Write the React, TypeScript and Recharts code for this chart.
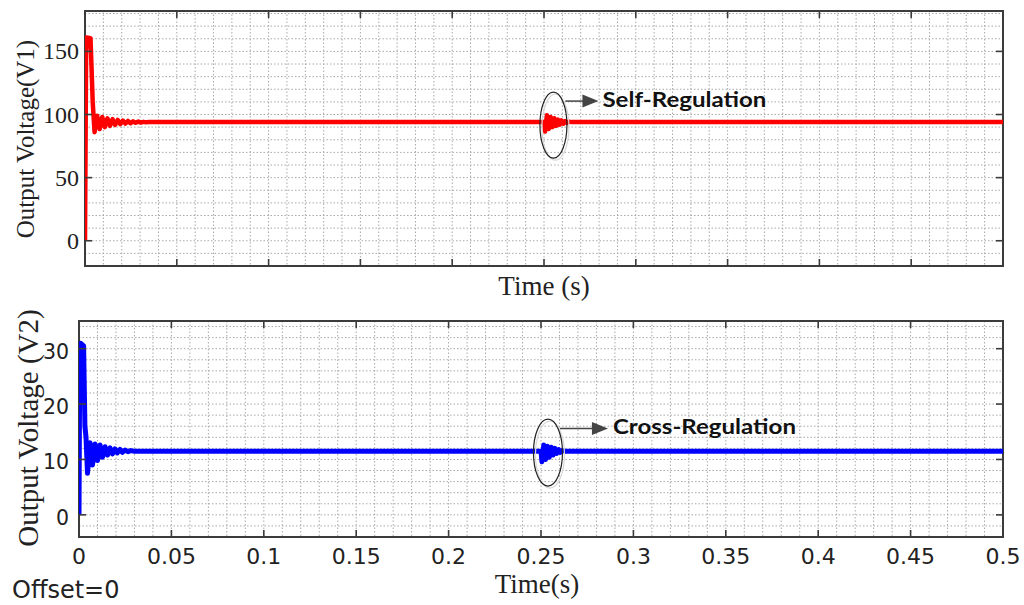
import React from 'react';
import { LineChart, Line, XAxis, YAxis, CartesianGrid, ReferenceArea, ReferenceDot } from 'recharts';

// V1 (self-regulated output), time in s / volts
const v1Times = [
  0, 0.0006, 0.001, 0.003, 0.0042, 0.0052, 0.0066, 0.008, 0.0094, 0.0108, 0.0122, 0.0136, 0.015,
  0.0164, 0.0178, 0.0192, 0.0206, 0.022, 0.0234, 0.0248, 0.0262, 0.0276, 0.029, 0.0304, 0.0318,
  0.0332, 0.035, 0.25, 0.2506, 0.2516, 0.2526, 0.2536, 0.2546, 0.2556, 0.2566, 0.2576, 0.2586,
  0.2596, 0.2606, 0.2616, 0.2626, 0.2636, 0.265, 0.5,
];
const v1Values = [
  0, 150, 161, 160.5, 110, 86, 99, 88.5, 98, 90, 97, 91, 96.3,
  91.8, 95.7, 92.4, 95.2, 92.8, 94.9, 93.1, 94.6, 93.4, 94.4, 93.6, 94.2,
  93.8, 94, 94, 86.5, 99.5, 88.5, 98, 90, 97, 91, 96, 92,
  95.3, 92.7, 94.8, 93.3, 94.4, 94, 94,
];

// V2 (cross-regulated output)
const v2Times = [
  0, 0.0004, 0.0008, 0.0025, 0.0032, 0.0038, 0.0046, 0.006, 0.0073, 0.0087, 0.01, 0.0114, 0.0127,
  0.0141, 0.0154, 0.0168, 0.0181, 0.0195, 0.0208, 0.0222, 0.0235, 0.025, 0.0265, 0.028, 0.03,
  0.25, 0.2505, 0.2515, 0.2525, 0.2535, 0.2545, 0.2555, 0.2565, 0.2575, 0.2585, 0.2595, 0.2605,
  0.2615, 0.263, 0.5,
];
const v2Values = [
  0, 29, 31, 30.5, 16, 14, 7.5, 13, 9, 12.8, 9.8, 12.6, 10.4,
  12.3, 10.8, 12.1, 11, 11.9, 11.2, 11.8, 11.3, 11.7, 11.4, 11.6, 11.5,
  11.5, 9.6, 12.6, 10, 12.4, 10.4, 12.2, 10.8, 12, 11.1, 11.8, 11.3,
  11.6, 11.5, 11.5,
];

const xMajor = [0, 0.05, 0.1, 0.15, 0.2, 0.25, 0.3, 0.35, 0.4, 0.45, 0.5];
const xMinor = Array.from({ length: 51 }, (_, i) => +(i * 0.01).toFixed(2));
const v1Major = [0, 50, 100, 150];
const v1Minor = Array.from({ length: 20 }, (_, i) => -10 + i * 10);
const v2Major = [0, 10, 20, 30];
const v2Minor = Array.from({ length: 19 }, (_, i) => -2 + i * 2);

const v1Data = v1Times.map((t, i) => ({ t, v: v1Values[i] }));
const v2Data = v2Times.map((t, i) => ({ t, v: v2Values[i] }));

const TOP = { w: 1024, h: 300, left: 85, right: 1003, top: 11, bottom: 266 };
const BOT = { w: 1024, h: 305, left: 79, right: 1003, top: 21, bottom: 237 };

const AXIS = '#3c3c3c';
const GRID = '#a9a9a9';
const SERIF = '"Liberation Serif", "Times New Roman", serif';
const SANS = '"DejaVu Sans", Arial, sans-serif';
const CALLOUT = 'Lato, "Open Sans", sans-serif';

const makeXTick = (box: typeof TOP, labels: boolean) => (p: any) => {
  const v = p.payload.value;
  if (!xMajor.includes(v)) return <g />;
  return (
    <g>
      <line x1={p.x} x2={p.x} y1={box.bottom} y2={box.bottom - 7} stroke={AXIS} strokeWidth={1.6} />
      <line x1={p.x} x2={p.x} y1={box.top} y2={box.top + 7} stroke={AXIS} strokeWidth={1.6} />
      {labels && (
        <text x={p.x} y={box.bottom + 27} textAnchor="middle" fontFamily={SANS} fontSize={22} fill="#222">
          {String(v)}
        </text>
      )}
    </g>
  );
};

const makeYTick = (box: typeof TOP, majors: number[], font: string, size: number, gap: number, dy: number) => (p: any) => {
  const v = p.payload.value;
  if (!majors.includes(v)) return <g />;
  return (
    <g>
      <line x1={box.left} x2={box.left + 7} y1={p.y} y2={p.y} stroke={AXIS} strokeWidth={1.6} />
      <line x1={box.right} x2={box.right - 7} y1={p.y} y2={p.y} stroke={AXIS} strokeWidth={1.6} />
      <text x={box.left - gap} y={p.y + dy} textAnchor="end" dominantBaseline="central" fontFamily={font} fontSize={size} fill="#222">
        {String(v)}
      </text>
    </g>
  );
};

// ellipse around the disturbance plus an arrow pointing to its caption
const callout = (label: string, o: { ex: number; ey: number; rx: number; ry: number; ay: number; a0: number; tip: number; tx: number; ty: number; len: number }) =>
  (p: any) => {
    const { cx, cy } = p;
    const ay = cy + o.ay;
    return (
      <g>
        <ellipse cx={cx + o.ex + 2} cy={cy + o.ey + 2} rx={o.rx} ry={o.ry} fill="none" stroke="#d8d8d8" strokeWidth={1.2} />
        <ellipse cx={cx + o.ex} cy={cy + o.ey} rx={o.rx} ry={o.ry} fill="none" stroke="#222" strokeWidth={1.2} />
        <line x1={cx + o.a0} x2={cx + o.tip - 14} y1={ay} y2={ay} stroke="#444" strokeWidth={1.5} />
        <polygon points={`${cx + o.tip},${ay} ${cx + o.tip - 16},${ay - 6.5} ${cx + o.tip - 16},${ay + 6.5}`} fill="#444" />
        <text x={cx + o.tx} y={cy + o.ty} fontFamily={CALLOUT} fontWeight={700} fontSize={21}
          textLength={o.len} lengthAdjust="spacingAndGlyphs" fill="#111">
          {label}
        </text>
      </g>
    );
  };

export default function App() {
  return (
    <div style={{ position: 'absolute', left: 0, top: 0, width: 1024, height: 605, background: '#fff' }}>
      <div style={{ position: 'absolute', left: 0, top: 0 }}>
        <LineChart width={TOP.w} height={TOP.h} data={v1Data} margin={{ top: TOP.top, right: TOP.w - TOP.right, left: 0, bottom: 0 }}>
          <CartesianGrid stroke={GRID} strokeDasharray="1.5 2" />
          <XAxis dataKey="t" type="number" domain={[0, 0.5]} ticks={xMinor} interval={0} height={TOP.h - TOP.bottom}
            axisLine={false} tickLine={false} tick={makeXTick(TOP, false)} allowDataOverflow />
          <YAxis type="number" domain={[-20, 182]} ticks={v1Minor} interval={0} width={TOP.left}
            axisLine={false} tickLine={false} tick={makeYTick(TOP, v1Major, SERIF, 24, 6, 0)} allowDataOverflow />
          <Line type="linear" dataKey="v" stroke="#ff0000" strokeWidth={4.5} dot={false} strokeLinejoin="round" isAnimationActive={false} />
          <ReferenceArea x1={0} x2={0.5} y1={-20} y2={182} fill="none" stroke={AXIS} strokeWidth={2} ifOverflow="visible" />
          <ReferenceDot x={0.2535} y={94} ifOverflow="visible"
            shape={callout('Self-Regulation', { ex: 3, ey: 3, rx: 13.5, ry: 33, ay: -21, a0: 15, tip: 48, tx: 52, ty: -15, len: 164 })} />
        </LineChart>
      </div>
      <div style={{ position: 'absolute', left: 0, top: 300 }}>
        <LineChart width={BOT.w} height={BOT.h} data={v2Data} margin={{ top: BOT.top, right: BOT.w - BOT.right, left: 0, bottom: 0 }}>
          <CartesianGrid stroke={GRID} strokeDasharray="1.5 2" />
          <XAxis dataKey="t" type="number" domain={[0, 0.5]} ticks={xMinor} interval={0} height={BOT.h - BOT.bottom}
            axisLine={false} tickLine={false} tick={makeXTick(BOT, true)} allowDataOverflow />
          <YAxis type="number" domain={[-4, 35]} ticks={v2Minor} interval={0} width={BOT.left}
            axisLine={false} tickLine={false} tick={makeYTick(BOT, v2Major, SANS, 20.5, 10, 3)} allowDataOverflow />
          <Line type="linear" dataKey="v" stroke="#0000ff" strokeWidth={5} dot={false} strokeLinejoin="round" isAnimationActive={false} />
          <ReferenceArea x1={0} x2={0.5} y1={-4} y2={35} fill="none" stroke={AXIS} strokeWidth={2} ifOverflow="visible" />
          <ReferenceDot x={0.2535} y={11.5} ifOverflow="visible"
            shape={callout('Cross-Regulation', { ex: 0.5, ey: 1.5, rx: 14.5, ry: 33.5, ay: -22.6, a0: 12.5, tip: 60.5, tx: 65.5, ty: -17.6, len: 183 })} />
        </LineChart>
      </div>
      <svg width={1024} height={605} style={{ position: 'absolute', left: 0, top: 0, pointerEvents: 'none' }}>
        <text transform="translate(34,139) rotate(-90)" textAnchor="middle" fontFamily={SERIF} fontSize={25} fill="#222">
          Output Voltage(V1)
        </text>
        <text transform="translate(38,428) rotate(-90)" textAnchor="middle" fontFamily={SERIF} fontSize={29} fill="#222">
          Output Voltage (V2)
        </text>
        <text x={544} y={295} textAnchor="middle" fontFamily={SERIF} fontSize={27} fill="#222">Time (s)</text>
        <text x={537} y={593} textAnchor="middle" fontFamily={SERIF} fontSize={27} fill="#222">Time(s)</text>
        <text x={12} y={598} fontFamily={SANS} fontSize={24} fill="#222">Offset=0</text>
      </svg>
    </div>
  );
}
